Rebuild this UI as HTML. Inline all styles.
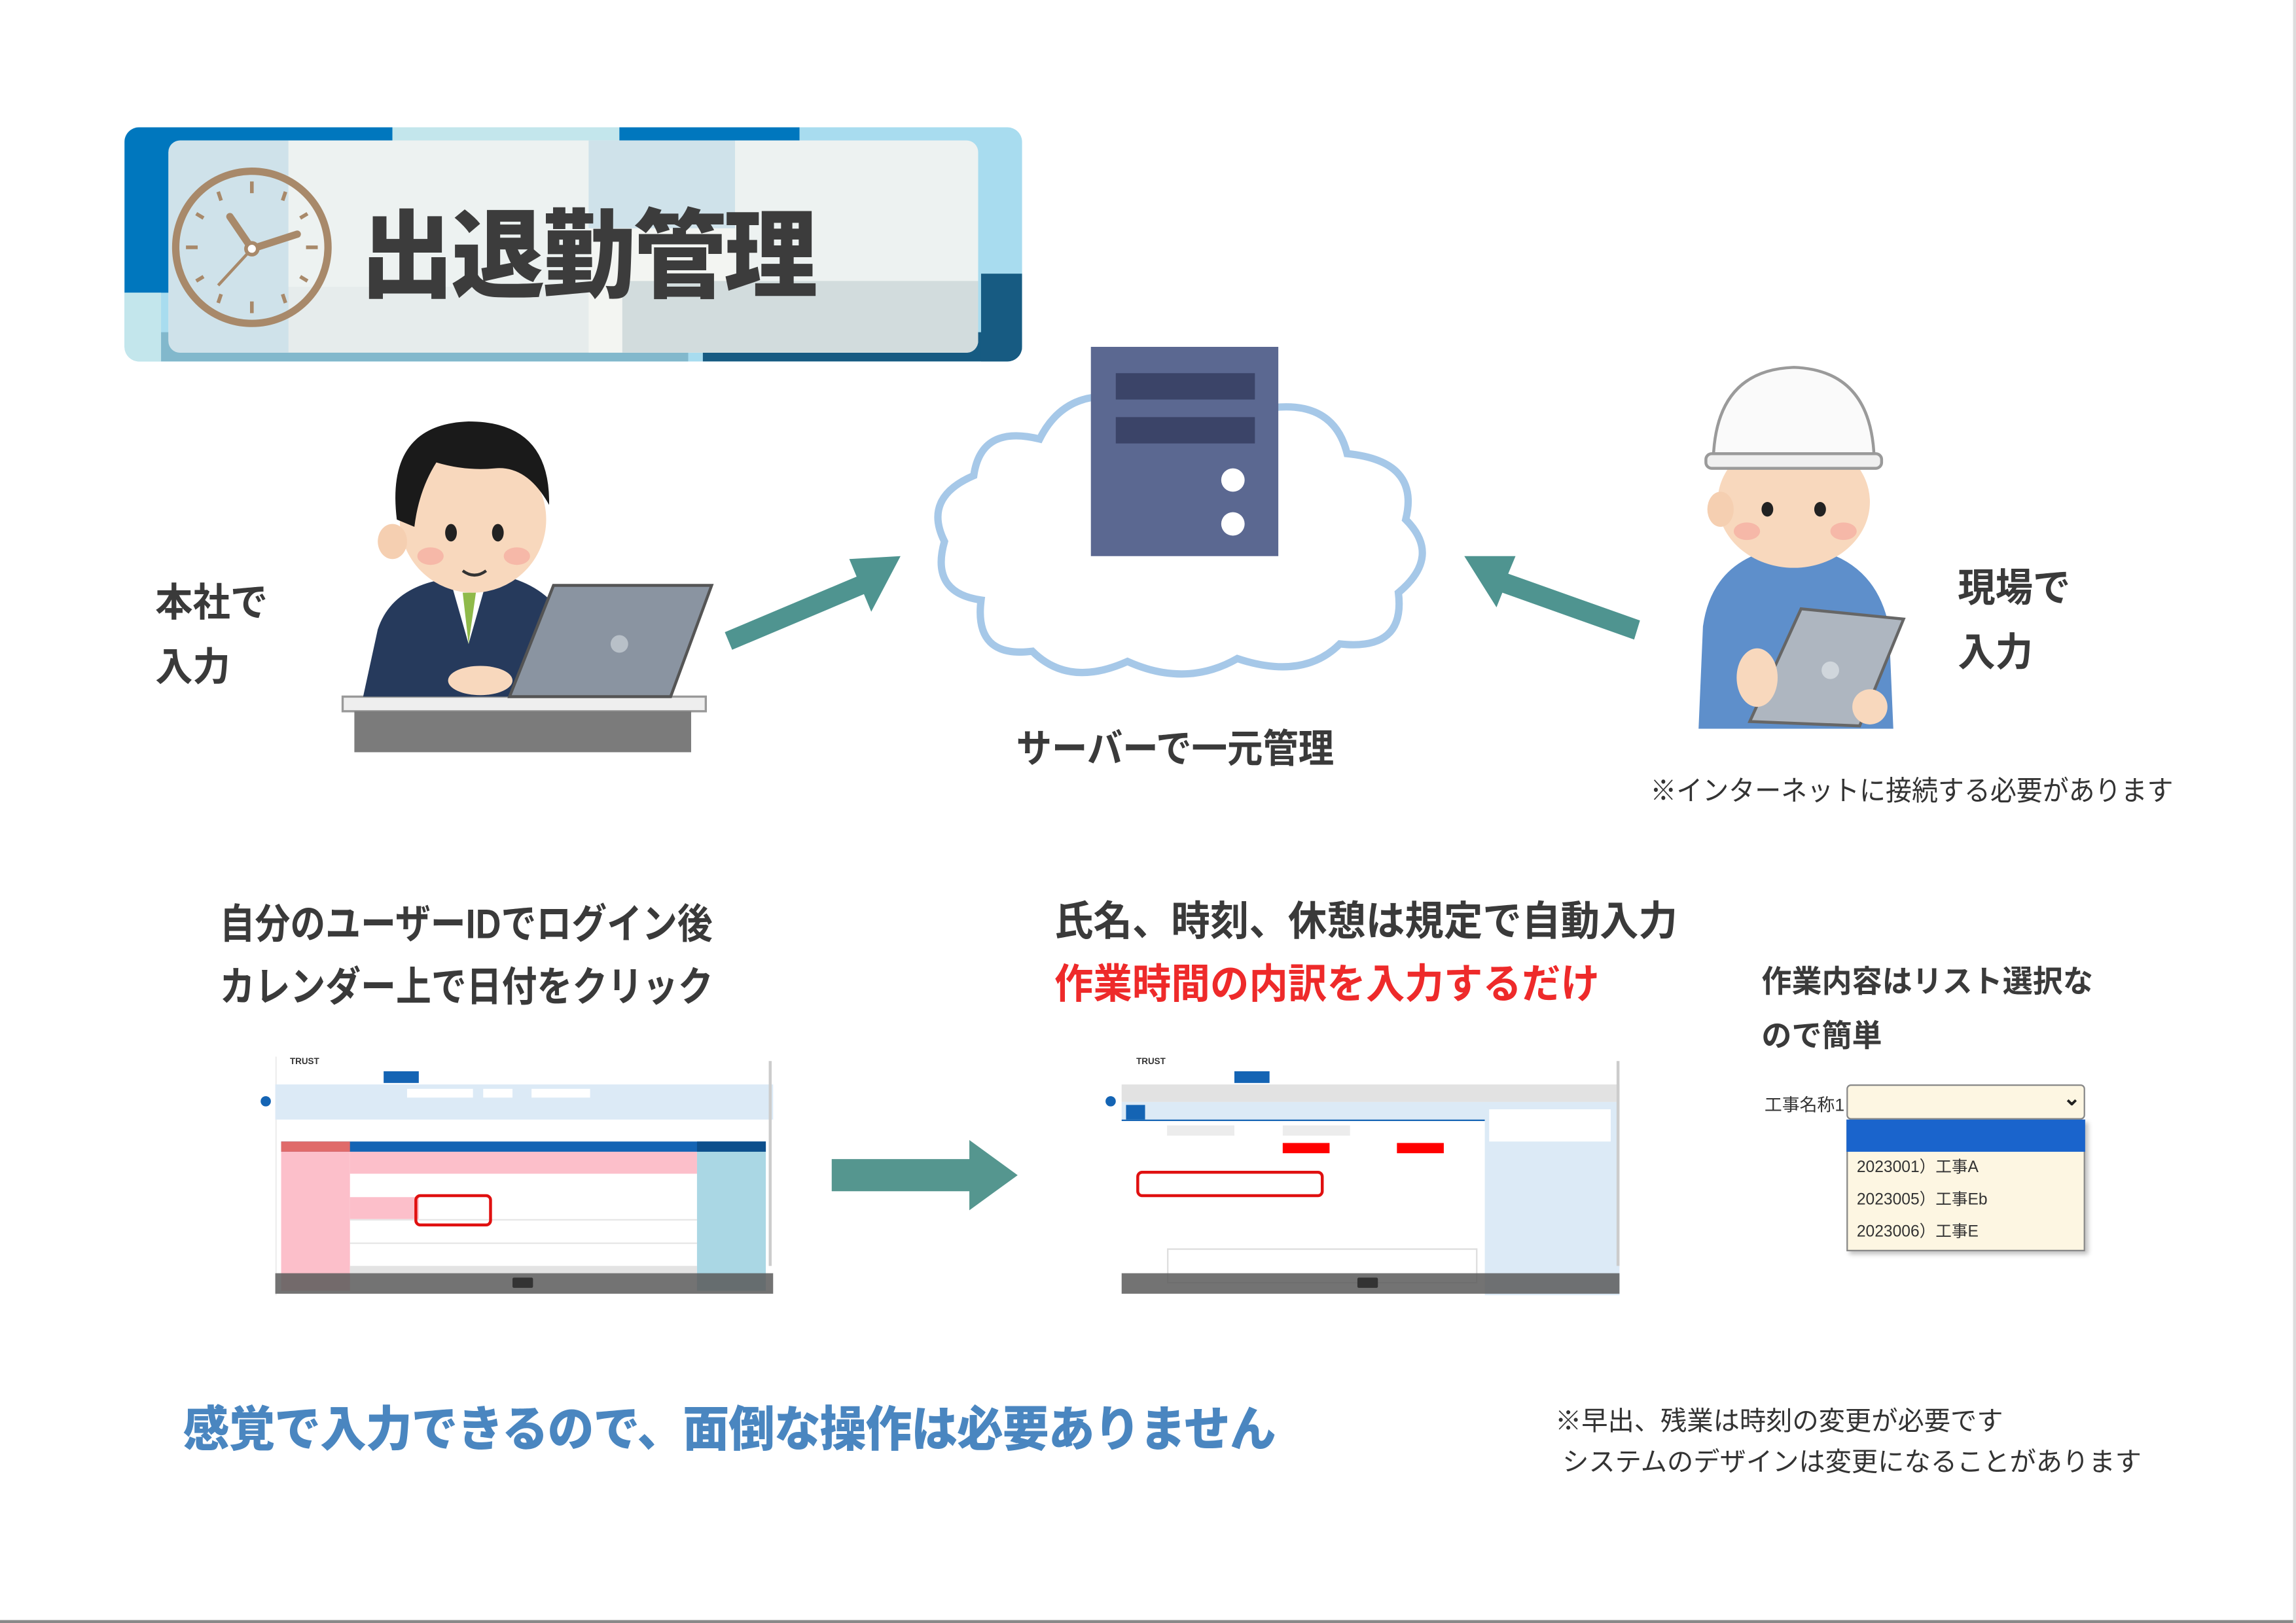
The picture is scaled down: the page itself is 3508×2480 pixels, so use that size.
<!DOCTYPE html>
<html><head><meta charset="utf-8">
<style>
html,body{margin:0;padding:0;background:#fff;}
body{width:3508px;height:2480px;overflow:hidden;position:relative;}
#s{position:absolute;left:0;top:0;width:1568px;height:1109px;transform:scale(2.23724,2.23625);transform-origin:0 0;font-family:"Liberation Sans","Noto Sans CJK JP",sans-serif;}
.a{position:absolute;}
.t{position:absolute;white-space:nowrap;font-weight:700;color:#3a3a3a;transform-origin:0 0;}
.sm{font-size:3px;color:#555;position:absolute;white-space:nowrap;}
</style></head><body><div id="s">

<!-- Title banner -->
<div class="a" style="left:85px;top:87px;width:613px;height:160px;border-radius:10px;overflow:hidden;background:#a8dcef;">
  <div class="a" style="left:0;top:0;width:183px;height:113px;background:#0077be"></div>
  <div class="a" style="left:183px;top:0;width:155px;height:160px;background:#c3e6ec"></div>
  <div class="a" style="left:338px;top:0;width:123px;height:20px;background:#0077be"></div>
  <div class="a" style="left:0;top:113px;width:25px;height:47px;background:#c3e6ec"></div>
  <div class="a" style="left:25px;top:140px;width:360px;height:20px;background:#82b8cc"></div>
  <div class="a" style="left:395px;top:140px;width:218px;height:20px;background:#175b82"></div>
  <div class="a" style="left:585px;top:100px;width:28px;height:60px;background:#175b82"></div>
</div>
<div class="a" style="left:115px;top:96px;width:553px;height:145px;border-radius:8px;background:#e6ecec;overflow:hidden;">
  <div class="a" style="left:0;top:0;width:82px;height:200px;background:#cfe2ea"></div>
  <div class="a" style="left:82px;top:0;width:205px;height:100px;background:#edf2f1"></div>
  <div class="a" style="left:287px;top:0;width:100px;height:60px;background:#cfe2ea"></div>
  <div class="a" style="left:387px;top:0;width:166px;height:200px;background:#edf2f1"></div>
  <div class="a" style="left:287px;top:60px;width:100px;height:85px;background:#f3f5f2"></div>
  <div class="a" style="left:310px;top:96px;width:243px;height:49px;background:#d2dcdd"></div>
</div>
<svg class="a" style="left:115px;top:112px" width="115" height="115" viewBox="0 0 115 115">
  <ellipse cx="57" cy="57" rx="52" ry="52" fill="none" stroke="#a8896a" stroke-width="5"/>
  <g stroke="#a8896a" stroke-width="2.5">
    <line x1="57" y1="12" x2="57" y2="20"/><line x1="57" y1="94" x2="57" y2="102"/>
    <line x1="12" y1="57" x2="20" y2="57"/><line x1="94" y1="57" x2="102" y2="57"/>
    <line x1="34" y1="19" x2="36" y2="25"/><line x1="80" y1="19" x2="78" y2="25"/>
    <line x1="19" y1="34" x2="24" y2="37"/><line x1="95" y1="34" x2="90" y2="37"/>
    <line x1="19" y1="80" x2="24" y2="77"/><line x1="95" y1="80" x2="90" y2="77"/>
    <line x1="34" y1="95" x2="36" y2="89"/><line x1="80" y1="95" x2="78" y2="89"/>
  </g>
  <line x1="57" y1="58" x2="42" y2="36" stroke="#a8896a" stroke-width="5" stroke-linecap="round"/>
  <line x1="57" y1="58" x2="88" y2="48" stroke="#a8896a" stroke-width="5" stroke-linecap="round"/>
  <line x1="57" y1="58" x2="34" y2="83" stroke="#a8896a" stroke-width="2"/>
  <circle cx="57" cy="58" r="4" fill="#fff" stroke="#a8896a" stroke-width="2.5"/>
</svg>
<div class="t" style="left:246px;top:122px;font-size:66px;font-weight:900;color:#3c3c3c;letter-spacing:-2px;transform:scaleX(0.97);">出退勤管理</div>

<!-- Businessman -->
<svg class="a" style="left:228px;top:280px" width="262" height="240" viewBox="0 0 262 240">
  <rect x="6" y="196" width="248" height="10" fill="#eeeeee" stroke="#999" stroke-width="1.5"/>
  <rect x="14" y="206" width="230" height="28" fill="#7b7b7b"/>
  <path d="M20 196 L30 150 Q40 120 80 115 L110 112 Q150 120 160 150 L165 196 Z" fill="#263a5c"/>
  <path d="M80 118 L92 160 L104 118 Z" fill="#fff"/>
  <path d="M88 125 L92 160 L97 125 Z" fill="#8fba4a"/>
  <ellipse cx="95" cy="75" rx="50" ry="50" fill="#f8d8bd"/>
  <path d="M43 75 Q35 10 92 8 Q148 8 147 65 Q132 38 110 40 Q90 42 70 36 Q58 55 55 80 Z" fill="#1a1a1a"/>
  <ellipse cx="40" cy="90" rx="10" ry="12" fill="#f5cfb1"/>
  <ellipse cx="80" cy="84" rx="4" ry="6" fill="#222"/><ellipse cx="112" cy="84" rx="4" ry="6" fill="#222"/>
  <ellipse cx="66" cy="100" rx="9" ry="6" fill="#f6b8a8"/><ellipse cx="125" cy="100" rx="9" ry="6" fill="#f6b8a8"/>
  <path d="M88 110 Q96 116 104 110" stroke="#333" fill="none" stroke-width="2"/>
  <polygon points="120,196 150,120 258,120 230,196" fill="#8a94a1" stroke="#555" stroke-width="2"/>
  <circle cx="195" cy="160" r="6" fill="#b8c0c8"/>
  <ellipse cx="100" cy="185" rx="22" ry="10" fill="#f8d8bd"/>
</svg>
<div class="t" style="left:106px;top:390px;font-size:27px;line-height:44px;transform:scaleX(0.95);">本社で<br>入力</div>

<!-- arrows -->
<svg class="a" style="left:490px;top:370px" width="130" height="80" viewBox="0 0 130 80">
  <polygon points="5,62 95,24 90,12 125,10 105,48 100,36 10,74" fill="#4f9490"/>
</svg>
<svg class="a" style="left:995px;top:370px" width="130" height="80" viewBox="0 0 130 80">
  <polygon points="125,54 35,22 40,10 5,10 27,45 31,35 121,67" fill="#4f9490"/>
</svg>

<!-- Cloud + server -->
<svg class="a" style="left:630px;top:230px" width="360" height="245" viewBox="0 0 360 245">
  <path d="M40 180 Q5 175 15 140 Q0 110 35 95 Q40 60 80 70 Q100 30 150 45 Q190 20 230 50 Q280 40 290 80 Q340 85 330 125 Q355 150 325 175 Q330 215 285 210 Q260 235 215 220 Q180 240 140 222 Q100 240 75 215 Q35 220 40 180 Z" fill="#fff" stroke="#a6c8e8" stroke-width="5"/>
  <rect x="115" y="7" width="128" height="143" fill="#5b6891"/>
  <rect x="132" y="25" width="95" height="18" fill="#3b4468"/>
  <rect x="132" y="55" width="95" height="18" fill="#3b4468"/>
  <circle cx="212" cy="98" r="8" fill="#fff"/><circle cx="212" cy="128" r="8" fill="#fff"/>
</svg>
<div class="t" style="left:694px;top:490px;font-size:27px;transform:scaleX(0.9);">サーバーで一元管理</div>

<!-- Worker -->
<svg class="a" style="left:1155px;top:248px" width="150" height="250" viewBox="0 0 150 250">
  <path d="M5 250 L8 180 Q15 130 70 125 Q125 130 135 180 L138 250 Z" fill="#5e8fcb"/>
  <ellipse cx="70" cy="95" rx="52" ry="45" fill="#f8d8bd"/>
  <path d="M15 70 Q15 5 70 3 Q125 5 125 70 Z" fill="#fafafa" stroke="#9a9a9a" stroke-width="2"/>
  <rect x="10" y="62" width="120" height="10" rx="4" fill="#f0f0f0" stroke="#9a9a9a" stroke-width="2"/>
  <ellipse cx="52" cy="100" rx="4" ry="5" fill="#222"/><ellipse cx="88" cy="100" rx="4" ry="5" fill="#222"/>
  <ellipse cx="38" cy="115" rx="9" ry="6" fill="#f6b8a8"/><ellipse cx="104" cy="115" rx="9" ry="6" fill="#f6b8a8"/>
  <ellipse cx="20" cy="100" rx="9" ry="12" fill="#f5cfb1"/>
  <polygon points="40,245 75,168 145,175 115,248" fill="#aeb6c0" stroke="#666" stroke-width="2"/>
  <circle cx="95" cy="210" r="6" fill="#d0d6dc"/>
  <ellipse cx="45" cy="215" rx="14" ry="20" fill="#f8d8bd"/>
  <ellipse cx="122" cy="235" rx="12" ry="12" fill="#f8d8bd"/>
</svg>
<div class="t" style="left:1337px;top:380px;font-size:27px;line-height:44px;transform:scaleX(0.95);">現場で<br>入力</div>
<div class="t" style="left:1127px;top:526px;font-size:19px;font-weight:400;color:#333;transform:scaleX(0.94);">※インターネットに接続する必要があります</div>

<!-- step texts -->
<div class="t" style="left:150px;top:610px;font-size:28px;line-height:43px;transform:scaleX(0.86);">自分のユーザーIDでログイン後<br>カレンダー上で日付をクリック</div>
<div class="t" style="left:720px;top:608px;font-size:28px;line-height:43px;transform:scaleX(0.95);">氏名、時刻、休憩は規定で自動入力<br><span style="color:#ee2a2a">作業時間の内訳を入力するだけ</span></div>
<div class="t" style="left:1203px;top:653px;font-size:21px;line-height:37px;transform:scaleX(0.98);">作業内容はリスト選択な<br>ので簡単</div>

<!-- Calendar screenshot -->
<div class="a" style="left:178px;top:720px;width:352px;height:166px;">
  <div class="a" style="left:10px;top:2px;width:340px;height:163px;background:#fff;border-left:1px solid #eee;"></div>
  <div class="sm" style="left:20px;top:3px;font-size:6px;font-weight:700;color:#333">TRUST</div>
  <div class="a" style="left:84px;top:12px;width:24px;height:8px;background:#1464b4;"></div>
  <div class="a" style="left:10px;top:21px;width:340px;height:24px;background:#dceaf6;"></div>
  <div class="a" style="left:100px;top:24px;width:45px;height:6px;background:#fff"></div>
  <div class="a" style="left:152px;top:24px;width:20px;height:6px;background:#fff"></div>
  <div class="a" style="left:185px;top:24px;width:40px;height:6px;background:#fff"></div>
  <div class="a" style="left:0;top:29px;width:7px;height:7px;border-radius:50%;background:#1464b4"></div>
  <div class="a" style="left:14px;top:60px;width:331px;height:7px;background:#1464b4"></div>
  <div class="a" style="left:14px;top:60px;width:47px;height:7px;background:#e06a6a"></div>
  <div class="a" style="left:298px;top:60px;width:47px;height:7px;background:#0d4f8c"></div>
  <div class="a" style="left:14px;top:67px;width:47px;height:95px;background:#fcbfca"></div>
  <div class="a" style="left:61px;top:67px;width:237px;height:15px;background:#fcbfca"></div>
  <div class="a" style="left:61px;top:98px;width:47px;height:15px;background:#fcbfca"></div>
  <div class="a" style="left:298px;top:67px;width:47px;height:95px;background:#aad7e4"></div>
  <div class="a" style="left:61px;top:113px;width:237px;height:0;border-top:1px solid #e6e6e6"></div>
  <div class="a" style="left:61px;top:129px;width:237px;height:0;border-top:1px solid #e6e6e6"></div>
  <div class="a" style="left:61px;top:145px;width:237px;height:5px;background:#e3e3e3"></div>
  <div class="a" style="left:10px;top:150px;width:340px;height:14px;background:rgba(90,90,90,.85)"></div>
  <div class="a" style="left:172px;top:153px;width:14px;height:7px;background:#333;border-radius:1px"></div>
  <div class="a" style="left:105px;top:96px;width:53px;height:22px;border:2.5px solid #e01010;border-radius:4px;box-sizing:border-box"></div>
  <div class="a" style="left:347px;top:5px;width:2px;height:140px;background:#ccc"></div>
</div>

<!-- middle arrow -->
<svg class="a" style="left:566px;top:776px" width="132" height="54" viewBox="0 0 132 54">
  <polygon points="2,16 96,16 96,3 129,27 96,51 96,38 2,38" fill="#55968f"/>
</svg>

<!-- Form screenshot -->
<div class="a" style="left:755px;top:720px;width:355px;height:166px;">
  <div class="a" style="left:11px;top:2px;width:340px;height:163px;background:#fff"></div>
  <div class="sm" style="left:21px;top:3px;font-size:6px;font-weight:700;color:#333">TRUST</div>
  <div class="a" style="left:88px;top:12px;width:24px;height:8px;background:#1464b4;"></div>
  <div class="a" style="left:11px;top:21px;width:340px;height:12px;background:#e2e2e2"></div>
  <div class="a" style="left:11px;top:33px;width:340px;height:12px;background:#dceaf6"></div>
  <div class="a" style="left:14px;top:35px;width:13px;height:10px;background:#1464b4"></div>
  <div class="a" style="left:11px;top:45px;width:248px;height:1px;background:#1464b4"></div>
  <div class="a" style="left:259px;top:33px;width:92px;height:132px;background:#dceaf6"></div>
  <div class="a" style="left:262px;top:38px;width:83px;height:22px;background:#fff"></div>
  <div class="a" style="left:0;top:29px;width:7px;height:7px;border-radius:50%;background:#1464b4"></div>
  <div class="a" style="left:42px;top:49px;width:46px;height:7px;background:#ececec"></div>
  <div class="a" style="left:121px;top:49px;width:46px;height:7px;background:#ececec"></div>
  <div class="a" style="left:121px;top:61px;width:32px;height:7px;background:#f00"></div>
  <div class="a" style="left:199px;top:61px;width:32px;height:7px;background:#f00"></div>
  <div class="a" style="left:21px;top:80px;width:128px;height:18px;border:2.5px solid #e01010;border-radius:4px;box-sizing:border-box"></div>
  <div class="a" style="left:42px;top:133px;width:210px;height:22px;border:1px solid #ddd"></div>
  <div class="a" style="left:11px;top:150px;width:340px;height:14px;background:rgba(90,90,90,.85)"></div>
  <div class="a" style="left:172px;top:153px;width:14px;height:7px;background:#333;border-radius:1px"></div>
  <div class="a" style="left:349px;top:5px;width:2px;height:140px;background:#ccc"></div>
</div>

<!-- Dropdown -->
<div class="t" style="left:1205px;top:746px;font-size:12px;font-weight:400;color:#333;">工事名称1</div>
<div class="a" style="left:1261px;top:741px;width:163px;height:24px;background:#fdf6e2;border:1px solid #888;border-radius:3px;box-sizing:border-box;"></div>
<div class="t" style="left:1409px;top:742px;font-size:14px;color:#222;">⌄</div>
<div class="a" style="left:1261px;top:765px;width:163px;height:90px;background:#fdf6e2;border:1px solid #888;box-sizing:border-box;box-shadow:2px 2px 3px rgba(0,0,0,.25);"></div>
<div class="a" style="left:1261px;top:765px;width:163px;height:22px;background:#1a64cc"></div>
<div class="t" style="left:1268px;top:787px;font-size:11px;font-weight:400;color:#333;line-height:22px;">2023001）工事A<br>2023005）工事Eb<br>2023006）工事E</div>

<!-- bottom -->
<div class="t" style="left:125px;top:950px;font-size:33px;font-weight:900;color:#4a86c0;letter-spacing:-0.5px;transform:scaleX(0.96);">感覚で入力できるので、面倒な操作は必要ありません</div>
<div class="t" style="left:1062px;top:957px;font-size:18px;font-weight:400;color:#333;line-height:28px;">※早出、残業は時刻の変更が必要です<br>&nbsp;システムのデザインは変更になることがあります</div>

<div class="a" style="left:0;top:1107px;width:1568px;height:2px;background:#888"></div>
<div class="a" style="left:1566px;top:0;width:2px;height:1109px;background:#ddd"></div>
</div></body></html>
